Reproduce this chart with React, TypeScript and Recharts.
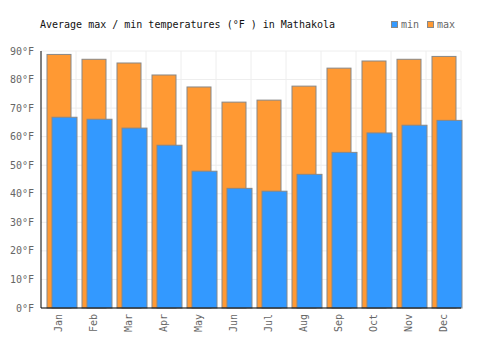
import { Bar, BarChart, CartesianGrid, XAxis, YAxis } from 'recharts';

const MONTHS = ['Jan', 'Feb', 'Mar', 'Apr', 'May', 'Jun', 'Jul', 'Aug', 'Sep', 'Oct', 'Nov', 'Dec'];
const MAX_TEMPS = [88.8, 87.1, 85.8, 81.6, 77.4, 72.1, 72.8, 77.7, 84.0, 86.5, 87.1, 88.1];
const MIN_TEMPS = [66.8, 66.1, 63.0, 57.0, 47.9, 41.9, 40.9, 46.8, 54.5, 61.3, 64.0, 65.7];
const Y_TICKS = [0, 10, 20, 30, 40, 50, 60, 70, 80, 90];

const MIN_COLOR = '#3399ff';
const MAX_COLOR = '#ff9933';
const BAR_STROKE = '#888888';
const GRID_COLOR = '#eeeeee';
const TEXT_GRAY = '#666666';
const FONT = '"DejaVu Sans Mono", monospace';

const data = MONTHS.map((month, i) => ({ month, max: MAX_TEMPS[i], min: MIN_TEMPS[i] }));

// recharts centres the overlapped pair, the reference sits it to the right
const GROUP_SHIFT = 3;

const ShiftedBar = (props: any) => {
  const { x, y, width, height, fill } = props;
  if (!height) return null;
  return (
    <rect
      x={x + GROUP_SHIFT}
      y={y}
      width={width}
      height={height}
      fill={fill}
      stroke={BAR_STROKE}
      strokeWidth={1}
    />
  );
};

const MonthTick = (props: any) => {
  const { x, y, payload } = props;
  return (
    <text
      x={x}
      y={y}
      transform={`rotate(-90, ${x}, ${y})`}
      textAnchor="end"
      dy="0.35em"
      fontFamily={FONT}
      fontSize={10}
      fill={TEXT_GRAY}
    >
      {payload.value}
    </text>
  );
};

const LegendBox = () => (
  <div style={{ display: 'flex', fontFamily: FONT, fontSize: 10, color: TEXT_GRAY }}>
    {[
      { label: 'min', color: MIN_COLOR },
      { label: 'max', color: MAX_COLOR },
    ].map(item => (
      <div key={item.label} style={{ display: 'flex', alignItems: 'center', marginRight: 8 }}>
        <span
          style={{
            display: 'inline-block',
            width: 5,
            height: 5,
            background: item.color,
            border: `1px solid ${BAR_STROKE}`,
            marginRight: 3,
          }}
        />
        {item.label}
      </div>
    ))}
  </div>
);

export default function App() {
  return (
    <div style={{ position: 'absolute', left: 0, top: 0, width: 500, height: 350, background: '#fff' }}>
      <div
        style={{
          position: 'absolute',
          left: 40,
          top: 19,
          fontFamily: FONT,
          fontSize: 10,
          color: '#111',
          whiteSpace: 'pre',
        }}
      >
        Average max / min temperatures (°F ) in Mathakola
      </div>
      <div style={{ position: 'absolute', left: 391, top: 19 }}>
        <LegendBox />
      </div>
      <BarChart
        width={500}
        height={350}
        data={data}
        margin={{ top: 51, right: 39, bottom: 0, left: 0 }}
        barGap={-19}
      >
        <CartesianGrid
          stroke={GRID_COLOR}
          verticalCoordinatesGenerator={({ offset }: any) =>
            MONTHS.map((_, i) => offset.left + ((i + 1) * offset.width) / MONTHS.length)
          }
        />
        <XAxis
          dataKey="month"
          height={42}
          tickLine={false}
          interval={0}
          tick={<MonthTick />}
          tickSize={0}
          tickMargin={6}
          axisLine={{ stroke: '#000' }}
        />
        <YAxis
          width={41}
          domain={[0, 90]}
          ticks={Y_TICKS}
          tickFormatter={v => `${v}°F`}
          tickLine={false}
          tickSize={0}
          tickMargin={7}
          axisLine={{ stroke: '#000' }}
          tick={{ fontFamily: FONT, fontSize: 10, fill: TEXT_GRAY }}
        />
        <Bar
          dataKey="max"
          fill={MAX_COLOR}
          barSize={24}
          isAnimationActive={false}
          shape={<ShiftedBar />}
        />
        <Bar
          dataKey="min"
          fill={MIN_COLOR}
          barSize={25}
          isAnimationActive={false}
          shape={<ShiftedBar />}
        />
      </BarChart>
    </div>
  );
}
